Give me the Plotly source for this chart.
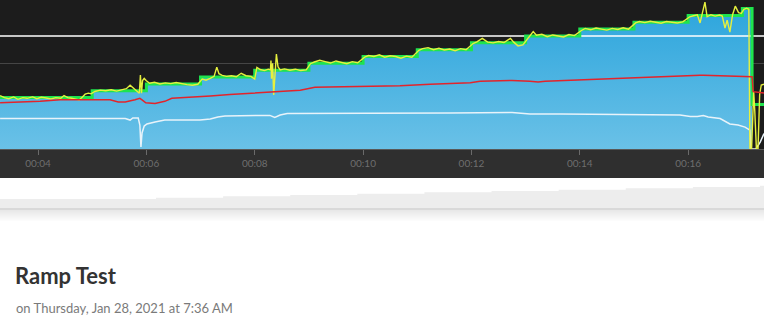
import plotly.graph_objects as go

# ---------------- data ----------------
tick_vals = [4, 6, 8, 10, 12, 14, 16]
tick_text = ["00:04", "00:06", "00:08", "00:10", "00:12", "00:14", "00:16"]

# target power steps (minutes, watts)
target_t = [3.0, 5, 6, 7, 8, 9, 10, 11, 12, 13, 14, 15, 16, 17, 17.18, 17.6]
target_w = [150, 170, 190, 210, 230, 250, 270, 290, 310, 330, 350, 370, 390, 410, 130, 130]

ftp_w = 330
grid_w = 250

# actual power
power_t = [3.30, 3.38, 3.46, 3.55, 3.63, 3.72, 3.80, 3.90, 3.98, 4.06, 4.15, 4.24, 4.33, 4.42, 4.48, 4.55, 4.62, 4.70, 4.76, 4.82, 4.87, 4.93, 4.98,
           5.05, 5.15, 5.25, 5.35, 5.45, 5.55, 5.63, 5.70, 5.76, 5.82, 5.87, 5.89, 5.91, 5.93, 5.96, 6.00,
           6.06, 6.15, 6.25, 6.35, 6.45, 6.55, 6.65, 6.75, 6.85, 6.95,
           7.03, 7.10, 7.18, 7.25, 7.30, 7.34, 7.40, 7.48, 7.57, 7.66, 7.75, 7.84, 7.93, 8.00,
           8.04, 8.10, 8.18, 8.25, 8.29, 8.30, 8.31, 8.33, 8.35, 8.38, 8.40, 8.43, 8.47, 8.55, 8.65, 8.75, 8.85, 8.95,
           9.03, 9.10, 9.20, 9.30, 9.40, 9.50, 9.60, 9.70, 9.80, 9.90,
           10.03, 10.10, 10.20, 10.30, 10.40, 10.50, 10.60, 10.70, 10.80, 10.90,
           11.03, 11.10, 11.20, 11.30, 11.40, 11.50, 11.60, 11.70, 11.80, 11.90,
           12.03, 12.10, 12.20, 12.30, 12.40, 12.50, 12.60, 12.72, 12.78, 12.86, 12.95,
           13.03, 13.08, 13.14, 13.20, 13.30, 13.40, 13.50, 13.60, 13.70, 13.80, 13.90,
           14.03, 14.10, 14.20, 14.30, 14.40, 14.50, 14.60, 14.70, 14.80, 14.90,
           15.03, 15.10, 15.20, 15.30, 15.40, 15.50, 15.60, 15.70, 15.80, 15.90,
           16.03, 16.10, 16.17, 16.22, 16.31, 16.35, 16.42, 16.50, 16.58, 16.63, 16.68, 16.72, 16.77, 16.82, 16.87, 16.93, 16.98, 17.03, 17.08, 17.12,
           17.14, 17.17, 17.21, 17.23, 17.26, 17.29, 17.32, 17.35, 17.40]
power_w = [156, 150, 147, 152, 145, 150, 148, 152, 147, 151, 149, 146, 150, 148, 156, 150, 148, 146, 143, 152, 160, 163, 161,
           168, 172, 170, 173, 169, 172, 176, 186, 178, 171, 163, 216, 163, 200, 206, 199,
           192, 195, 190, 193, 191, 194, 190, 188, 186, 189,
           204, 201, 206, 212, 239, 220, 215, 212, 214, 211, 221, 214, 212, 204,
           238, 232, 229, 233, 231, 258, 205, 250, 158, 242, 277, 240, 231, 234, 230, 233, 229, 231,
           249, 254, 259, 255, 251, 257, 253, 249, 255, 252,
           268, 273, 270, 275, 268, 272, 270, 265, 271, 268,
           288, 293, 296, 290, 294, 289, 292, 287, 293, 290,
           308, 313, 323, 312, 310, 314, 311, 323, 312, 301, 304,
           322, 332, 343, 332, 335, 328, 333, 330, 327, 334, 331,
           346, 352, 348, 353, 350, 347, 352, 349, 354, 350,
           368, 372, 369, 373, 370, 367, 372, 370, 368, 371,
           386, 389, 392, 368, 429, 386, 392, 388, 391, 388, 353, 376, 341, 392, 417, 398, 396, 408, 411, 408,
           0, 0, 166, 110, 0, 0, 160, 187, 189]

# heart rate
hr_t = [3.30, 3.67, 4.04, 4.41, 4.78, 5.14, 5.33, 5.48, 5.61, 5.79, 5.88, 5.92, 5.99, 6.16, 6.34, 6.47, 6.81, 7.18, 7.54,
        8.02, 8.37, 8.65, 8.84, 9.11, 9.76, 10.13, 10.68, 11.24, 11.79, 11.98, 12.16, 12.75, 13.08, 13.23, 13.36, 14.00,
        14.74, 15.48, 16.22, 16.28, 16.59, 17.11, 17.18, 17.20, 17.40]
hr_bpm = [121, 121.5, 122, 123, 123, 123.5, 123, 121.5, 121.5, 123, 124, 123, 121, 120.5, 122, 124, 124.5, 125.5, 126.5,
          127.5, 128.5, 129, 129.5, 131.5, 132, 132.5, 132.5, 133.5, 134.5, 134.5, 135.5, 136, 135.5, 135, 135.5, 136.5,
          137.5, 138.5, 139.5, 139.5, 139, 138.5, 138.5, 128.5, 127.5]

# cadence
cad_t = [3.30, 3.85, 4.41, 4.96, 5.33, 5.61, 5.70, 5.75, 5.85, 5.88, 5.90, 5.92, 5.96, 6.01, 6.16, 6.34, 6.99, 7.18, 7.32,
         7.45, 8.02, 8.28, 8.37, 8.47, 8.60, 9.76, 10.68, 11.61, 12.75, 12.90, 13.08, 13.64, 14.37, 15.11, 15.85, 16.04,
         16.17, 16.28, 16.37, 16.59, 16.77, 16.92, 17.05, 17.14, 17.16, 17.25, 17.33, 17.40]
cad_rpm = [89, 89, 90.5, 89, 90.5, 89, 84.5, 90.5, 90.5, 70, 6, 47, 67, 73, 79, 84.5, 84.5, 87.5, 93.5,
           96.5, 98, 98, 92, 99, 103.5, 103.5, 105, 105, 106.5, 105, 102, 102, 100.5, 100.5, 99, 95,
           95, 98, 93.5, 89, 73, 70, 64, 55, 0, 0, 20, 45]

# overview navigator (whole workout, compressed)
nav_t = [0.5, 3, 4, 5, 6, 7, 8, 9, 10, 11, 12, 12.5]
nav_w = [135, 155, 175, 195, 215, 235, 255, 275, 295, 315, 335, 335]

assert len(power_t) == len(power_w)
assert len(hr_t) == len(hr_bpm)
assert len(cad_t) == len(cad_rpm)

# ---------------- figure ----------------
W, H = 764, 322


def py(px):
    return 1 - px / H


fig = go.Figure()

# target area (blue gradient)
fig.add_trace(go.Scatter(
    x=target_t[:15], y=target_w[:15], mode="lines", line=dict(width=0, shape="hv"),
    fill="tozeroy",
    fillgradient=dict(type="vertical", colorscale=[[0, "#6ac1e7"], [1, "#2aa4dc"]], start=0, stop=435),
    hoverinfo="skip", showlegend=False))

# FTP line
fig.add_trace(go.Scatter(x=[3.0, 17.6], y=[ftp_w, ftp_w], mode="lines",
                         line=dict(color="#ffffff", width=1.5), showlegend=False))

# cadence
fig.add_trace(go.Scatter(x=cad_t, y=cad_rpm, mode="lines",
                         line=dict(color="#e8f3fa", width=1.5), showlegend=False))

# heart rate
fig.add_trace(go.Scatter(x=hr_t, y=hr_bpm, mode="lines", yaxis="y2",
                         line=dict(color="#e3242b", width=1.5), showlegend=False))

# target line (green)
fig.add_trace(go.Scatter(x=target_t, y=target_w, mode="lines",
                         line=dict(color="#1ee44e", width=3, shape="hv"), showlegend=False))

# actual power (yellow)
fig.add_trace(go.Scatter(x=power_t, y=power_w, mode="lines",
                         line=dict(color="#e6f03e", width=1.4), showlegend=False))

# navigator
fig.add_trace(go.Scatter(x=nav_t, y=nav_w, mode="lines", xaxis="x2", yaxis="y3",
                         line=dict(width=0, shape="hv"), fill="tozeroy", fillcolor="#ededed",
                         showlegend=False, hoverinfo="skip"))

shapes = [
    dict(type="rect", xref="paper", yref="paper", x0=0, x1=1, y0=py(149), y1=1,
         fillcolor="#1c1c1c", line=dict(width=0), layer="below"),
    dict(type="rect", xref="paper", yref="paper", x0=0, x1=1, y0=py(178), y1=py(149),
         fillcolor="#2f2f2f", line=dict(width=0), layer="below"),
    dict(type="rect", xref="paper", yref="paper", x0=0, x1=1, y0=py(210), y1=py(208),
         fillcolor="#d9d9d9", line=dict(width=0), layer="above"),
]
for i in range(12):
    g = int(0xe6 + (0xff - 0xe6) * (i + 1) / 12)
    shapes.append(dict(type="rect", xref="paper", yref="paper", x0=0, x1=1,
                       y0=py(211 + i), y1=py(210 + i),
                       fillcolor="#%02x%02x%02x" % (g, g, g), line=dict(width=0), layer="above"))

font_family = "Lato, 'Open Sans', sans-serif"

fig.update_layout(
    template="none",
    width=W, height=H,
    margin=dict(l=0, r=0, t=0, b=0, pad=0),
    paper_bgcolor="#ffffff",
    plot_bgcolor="rgba(0,0,0,0)",
    showlegend=False,
    shapes=shapes,
    xaxis=dict(domain=[0, 1], range=[3.2985, 17.40], anchor="y",
               tickmode="array", tickvals=tick_vals, ticktext=tick_text,
               ticks="outside", ticklen=5, tickwidth=1, tickcolor="#6a6a6a",
               tickfont=dict(family=font_family, size=10, color="#6e6e6e"),
               showline=True, linecolor="#585858", linewidth=1,
               showgrid=False, zeroline=False, automargin=False, fixedrange=True),
    yaxis=dict(domain=[py(149), 1], range=[0, 435], anchor="x",
               tickmode="array", tickvals=[grid_w], showticklabels=False, ticks="",
               showgrid=True, gridcolor="#454545", gridwidth=1,
               zeroline=False, showline=False, automargin=False, fixedrange=True),
    yaxis2=dict(overlaying="y", range=[90, 190], visible=False, anchor="x", fixedrange=True),
    xaxis2=dict(domain=[0, 1], anchor="y3", range=[0.675, 12.06], visible=False, fixedrange=True),
    yaxis3=dict(domain=[py(208), py(178)], anchor="x2", range=[0, 450], visible=False, fixedrange=True),
    annotations=[
        dict(text="<b>Ramp Test</b>", xref="paper", yref="paper", x=13 / W, y=py(275),
             xanchor="left", yanchor="middle", showarrow=False,
             font=dict(family=font_family, size=22, color="#333333")),
        dict(text="on Thursday, Jan 28, 2021 at 7:36 AM", xref="paper", yref="paper", x=13.5 / W, y=py(308),
             xanchor="left", yanchor="middle", showarrow=False,
             font=dict(family=font_family, size=13, color="#7a7a7a")),
    ],
)

fig.write_html("out.html", config={"displayModeBar": False})
